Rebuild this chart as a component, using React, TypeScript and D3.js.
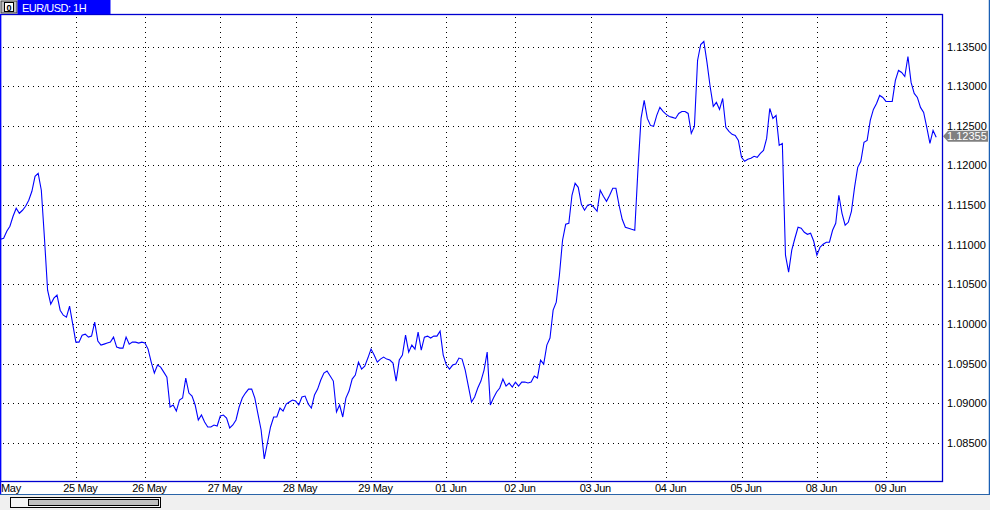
import React from "react";
import * as d3 from "d3";

const symbolTitle = "EUR/USD: 1H";
// first day is only partly on screen: its label shows just the month
const dayLabels = ["May", "25 May", "26 May", "27 May", "28 May", "29 May", "01 Jun", "02 Jun", "03 Jun", "04 Jun", "05 Jun", "08 Jun", "09 Jun"];
const dayBarCounts = [24, 22, 24, 24, 24, 24, 22, 24, 24, 24, 24, 22, 17];
const priceTicks = [1.085, 1.09, 1.095, 1.1, 1.105, 1.11, 1.115, 1.12, 1.125, 1.13, 1.135];
const lastPrice = 1.12355;

// hourly closes, EUR/USD
const closes = [
  1.11069, 1.11082, 1.1117, 1.11233, 1.11359, 1.1146, 1.11397, 1.11435, 1.11485, 1.11561,
  1.11674, 1.11863, 1.11901, 1.11687, 1.11082, 1.10427, 1.10251, 1.10326, 1.10364, 1.10175,
  1.10112, 1.10087, 1.10226, 1.09999, 1.09772, 1.09772, 1.0986, 1.09873, 1.09835, 1.09848,
  1.10024, 1.09785, 1.09734, 1.09747, 1.0976, 1.09772, 1.09835, 1.09709, 1.09697, 1.09697,
  1.09835, 1.09747, 1.09772, 1.09772, 1.0976, 1.09772, 1.0976, 1.09684, 1.0952, 1.09382,
  1.09483, 1.09457, 1.09394, 1.09331, 1.08954, 1.08979, 1.08903, 1.09042, 1.09067, 1.09319,
  1.0913, 1.09092, 1.08979, 1.0879, 1.08853, 1.08765, 1.08702, 1.08702, 1.08727, 1.08714,
  1.0884, 1.08853, 1.08815, 1.08689, 1.08727, 1.0879, 1.08954, 1.09067, 1.0913, 1.0918,
  1.0918, 1.09067, 1.08865, 1.08664, 1.08299, 1.085, 1.08702, 1.08828, 1.08828, 1.08941,
  1.08903, 1.08991, 1.09017, 1.09042, 1.09029, 1.08979, 1.0908, 1.09092, 1.08991, 1.08941,
  1.09105, 1.0918, 1.09294, 1.09382, 1.09407, 1.09344, 1.09281, 1.08891, 1.08979, 1.08828,
  1.09067, 1.09155, 1.09306, 1.09357, 1.0952, 1.09432, 1.0947, 1.09571, 1.09684, 1.09609,
  1.0952, 1.09558, 1.09583, 1.09558, 1.09546, 1.09508, 1.09281, 1.09546, 1.09609, 1.0986,
  1.09646, 1.09734, 1.09684, 1.09898, 1.09671, 1.09835, 1.09848, 1.09823, 1.09848, 1.09848,
  1.09911, 1.09609, 1.09483, 1.09432, 1.09483, 1.09495, 1.09571, 1.09558, 1.0942, 1.09218,
  1.09017, 1.0908, 1.09193, 1.09281, 1.0942, 1.09646, 1.08979, 1.09067, 1.09143, 1.09193,
  1.09306, 1.09218, 1.09256, 1.09205, 1.09268, 1.09218, 1.09268, 1.09268, 1.09256, 1.09268,
  1.09344, 1.09319, 1.09546, 1.09495, 1.09734, 1.09823, 1.10175, 1.10276, 1.10616, 1.11057,
  1.11258, 1.11271, 1.11624, 1.11775, 1.11724, 1.1151, 1.11435, 1.11498, 1.1151, 1.11472,
  1.11422, 1.11687, 1.11611, 1.11548, 1.11624, 1.11712, 1.11712, 1.11498, 1.11321, 1.11221,
  1.11208, 1.11195, 1.11183, 1.11938, 1.12593, 1.1282, 1.12593, 1.12505, 1.12493, 1.12631,
  1.12732, 1.12681, 1.12644, 1.12618, 1.12606, 1.12593, 1.12656, 1.12681, 1.12681, 1.12656,
  1.12404, 1.12493, 1.13324, 1.13525, 1.13563, 1.13299, 1.12996, 1.12744, 1.12795, 1.12707,
  1.12845, 1.1248, 1.1243, 1.12392, 1.12379, 1.12316, 1.12102, 1.12052, 1.12077, 1.1209,
  1.12115, 1.12102, 1.12152, 1.1219, 1.12341, 1.12719, 1.12593, 1.12631, 1.12253, 1.12278,
  1.10868, 1.10654, 1.10931, 1.11082, 1.11221, 1.11208, 1.11157, 1.11132, 1.11145, 1.11044,
  1.10868, 1.10969, 1.11006, 1.11032, 1.11032, 1.11183, 1.11271, 1.11624, 1.11397, 1.11246,
  1.11283, 1.11422, 1.11724, 1.11976, 1.12052, 1.12291, 1.12316, 1.12568, 1.12707, 1.12782,
  1.12883, 1.12858, 1.12807, 1.12807, 1.12807, 1.13072, 1.13198, 1.13173, 1.13122, 1.13374,
  1.13047, 1.12908, 1.12858, 1.12732, 1.12669, 1.1248, 1.12278, 1.12442, 1.12355,
];

const FONT = "'Liberation Sans', Arial, sans-serif";

export default function App() {
  const plotLeft = 0.5, plotTop = 14.5, plotRight = 942.5, plotBottom = 481.5;

  const x = d3.scaleLinear().domain([0, closes.length - 1]).range([0.5, 936.2]);
  const y = d3.scaleLinear().domain([1.085, 1.135]).range([443, 46.5]);

  const linePath = d3
    .line<number>()
    .x((_, i) => x(i))
    .y((d) => y(d))(closes) as string;

  const dayStarts: number[] = [];
  dayBarCounts.reduce((acc, n) => {
    dayStarts.push(acc);
    return acc + n;
  }, 0);

  const yl = y(lastPrice) - 1;

  return (
    <>
      <style>{`body{margin:0;background:#fff}`}</style>
      <svg width={990} height={510} style={{ display: "block", fontFamily: FONT }}>
        <defs>
          <clipPath id="plotClip">
            <rect x={plotLeft} y={plotTop} width={plotRight - plotLeft} height={plotBottom - plotTop} />
          </clipPath>
        </defs>
        <rect x={0} y={0} width={990} height={510} fill="#ffffff" />

        {/* grid */}
        <g clipPath="url(#plotClip)" stroke="#000" strokeWidth={1} strokeDasharray="1,4" shapeRendering="crispEdges">
          {priceTicks.map((t) => (
            <line key={"h" + t} x1={plotLeft + 2} x2={plotRight} y1={Math.round(y(t)) + 0.5} y2={Math.round(y(t)) + 0.5} />
          ))}
          {dayStarts.slice(1).map((s) => (
            <line key={"v" + s} x1={Math.round(x(s)) + 0.5} x2={Math.round(x(s)) + 0.5} y1={plotTop + 2} y2={plotBottom} />
          ))}
        </g>

        {/* price line */}
        <g clipPath="url(#plotClip)">
          <path d={linePath} fill="none" stroke="#0000ff" strokeWidth={1.1} />
        </g>

        {/* plot frame */}
        <rect x={plotLeft} y={plotTop} width={plotRight - plotLeft} height={plotBottom - plotTop} fill="none" stroke="#0000d0" strokeWidth={1.3} />

        {/* price axis labels */}
        {priceTicks.map((t) => (
          <text key={"yl" + t} x={947} y={y(t) + 4} fontSize={11} fill="#000">
            {t.toFixed(5)}
          </text>
        ))}

        {/* last price label */}
        <path
          d={`M${plotRight + 0.5},${yl} L${plotRight + 5.5},${yl - 5.5} L988,${yl - 5.5} L988,${yl + 5.5} L${plotRight + 5.5},${yl + 5.5} Z`}
          fill="#808080"
        />
        <text x={947} y={yl + 4} fontSize={11} fill="#fff">
          {lastPrice.toFixed(5)}
        </text>

        {/* time axis labels */}
        {dayStarts.map((s, i) =>
          i === 0 ? (
            <text key={"xl" + i} x={x(s) + 0.5} y={492} fontSize={11} fill="#000" letterSpacing={-0.3}>
              {dayLabels[i]}
            </text>
          ) : (
            <text key={"xl" + i} x={x(s) + 4.5} y={492} fontSize={11} fill="#000" textAnchor="middle" letterSpacing={-0.3}>
              {dayLabels[i]}
            </text>
          )
        )}

        {/* header */}
        <rect x={1} y={1} width={16} height={12} fill="#c0c0c0" stroke="#404040" strokeWidth={1} />
        <rect x={4.5} y={2.5} width={9} height={9} fill="#ffffff" stroke="#000" strokeWidth={1} />
        <text x={9} y={10.5} fontSize={9} fontWeight="bold" textAnchor="middle" fill="#000">0</text>
        <rect x={17.5} y={0} width={93} height={14} fill="#0000ff" />
        <text x={22} y={11.5} fontSize={11} fill="#fff" letterSpacing={-0.5}>
          {symbolTitle}
        </text>

        {/* window edges */}
        <line x1={0.5} x2={0.5} y1={14} y2={495} stroke="#0000ff" strokeWidth={1.5} />
        <line x1={989.5} x2={989.5} y1={0} y2={495} stroke="#1a5fb4" strokeWidth={1.5} />

        {/* bottom status / scrollbar */}
        <rect x={0} y={495} width={990} height={15} fill="#f0f0f0" />
        <line x1={0} x2={990} y1={494.5} y2={494.5} stroke="#2a64a8" strokeWidth={1} />
        <rect x={10.5} y={497.5} width={150} height={10} fill="#f4f4f4" stroke="#000" strokeWidth={1} />
        <rect x={28.5} y={499.5} width={130} height={6} fill="#c0c0c0" stroke="#000" strokeWidth={1} />
      </svg>
    </>
  );
}
